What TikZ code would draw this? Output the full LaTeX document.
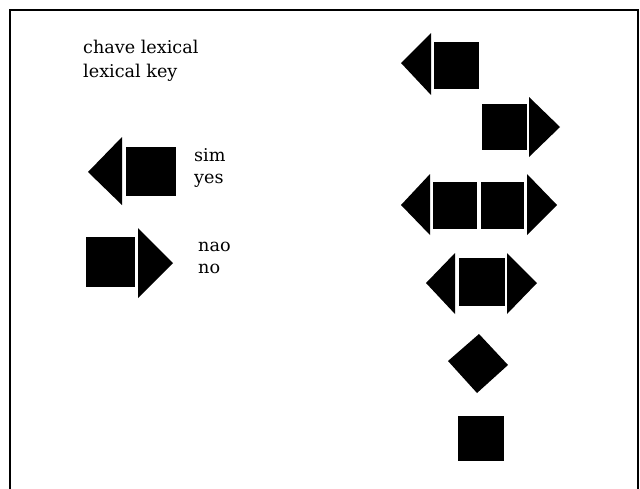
\documentclass[tikz,border=0pt]{standalone}
\usepackage{fontspec}
\setmainfont{DejaVu Serif}
\tikzset{blk/.style={fill=black},
         lbl/.style={anchor=base west,inner sep=0pt,font=\fontsize{17.6}{20}\selectfont}}
\begin{document}
\begin{tikzpicture}[x=1pt,y=-1pt]
\useasboundingbox (0,0) rectangle (640,488);
\fill[color=white] (0,0) rectangle (640,488);
% Drawing frame
\draw[line width=2.4pt] (10,492) -- (10,10) -- (638,10) -- (638,492);
% Drawing key text
\node[lbl] (keypt) at (83,53) {chave lexical};
\node[lbl] (keyen) at (83,77) {lexical key};
% Key 1: sim / yes
\fill[blk] (122,137) -- (88,172) -- (122,205) -- cycle;
\fill[blk] (126,147) rectangle (176,196);
\node[lbl] (simpt) at (194,161) {sim};
\node[lbl] (simen) at (194,183) {yes};
% Key 2: nao / no
\fill[blk] (86,237) rectangle (135,287);
\fill[blk] (138,228) -- (173,263) -- (138,298) -- cycle;
\node[lbl] (naopt) at (198,251) {nao};
\node[lbl] (naoen) at (198,273) {no};
% Done with key; drawing right column
% Row 1: left tip, square
\fill[blk] (431,33) -- (401,63) -- (431,95) -- cycle;
\fill[blk] (434,42) rectangle (479,89);
% Row 2: square, right tip
\fill[blk] (482,104) rectangle (527,150);
\fill[blk] (529,97) -- (560,127) -- (529,157) -- cycle;
% Row 3: left tip, two squares, right tip
\fill[blk] (430,174) -- (401,205) -- (430,235) -- cycle;
\fill[blk] (433,182) rectangle (477,229);
\fill[blk] (481,182) rectangle (524,229);
\fill[blk] (527,174) -- (557,205) -- (527,235) -- cycle;
% Row 4: left tip, square, right tip
\fill[blk] (455,253) -- (426,283) -- (455,314) -- cycle;
\fill[blk] (459,258) rectangle (505,306);
\fill[blk] (507,253) -- (537,283) -- (507,314) -- cycle;
% Row 5: diamond
\fill[blk] (479,334) -- (508,365) -- (477,393) -- (448,361) -- cycle;
% Row 6: square
\fill[blk] (458,416) rectangle (504,461);
% Done with right column
\end{tikzpicture}
\end{document}
